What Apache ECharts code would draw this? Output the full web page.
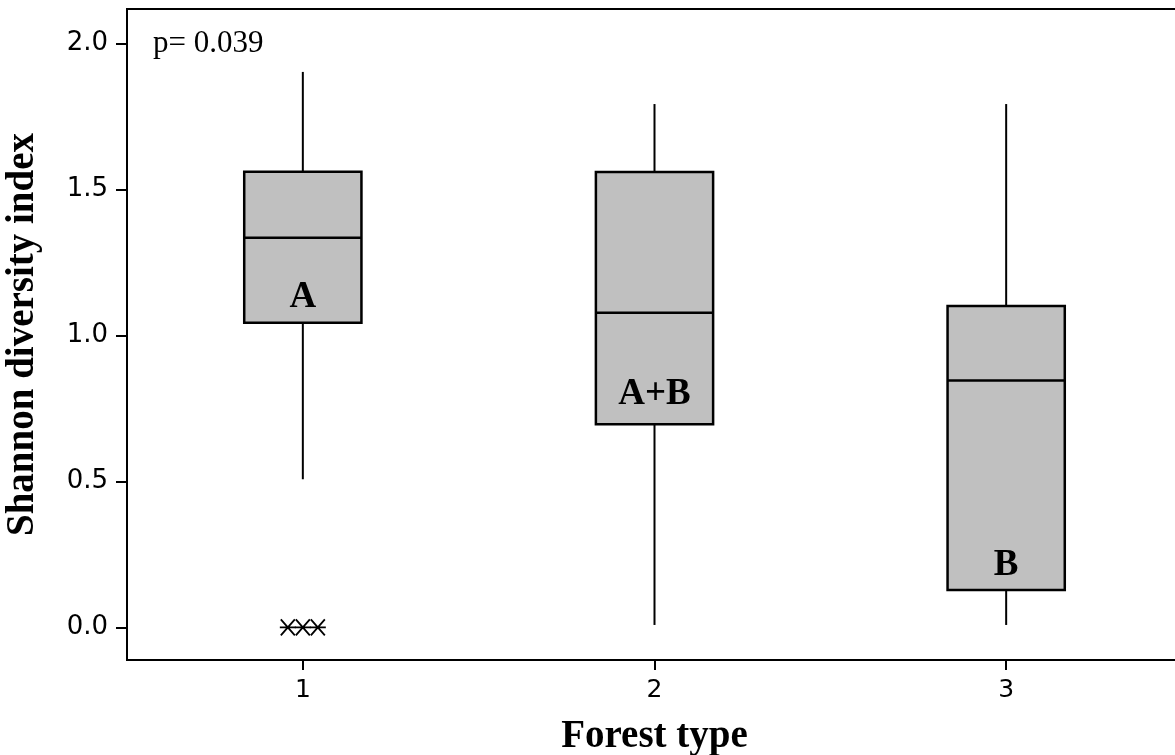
<!DOCTYPE html>
<html>
<head>
<meta charset="utf-8">
<script src="https://cdn.jsdelivr.net/npm/echarts@6/dist/echarts.min.js"></script>
<style>
  html, body { margin: 0; padding: 0; background: #fff; }
  #chart { width: 1175px; height: 755px; }
</style>
</head>
<body>
<div id="chart"></div>
<script>
// Shannon diversity index by forest type
const categories = ['1', '2', '3'];
const whiskerLow = [0.507, 0.008, 0.008];
const quartile1 = [1.043, 0.695, 0.128];
const medians = [1.334, 1.077, 0.845];
const quartile3 = [1.560, 1.559, 1.100];
const whiskerHigh = [1.902, 1.792, 1.792];

// tied outliers of forest type 1 (all at zero)
const outlierGroup = [0, 0, 0];
const outlierValues = [0, 0, 0];

// grouping letters from the post-hoc comparison
const groupLetters = ['A', 'A+B', 'B'];
const letterValues = [1.131, 0.796, 0.213];

const yTicks = [0, 0.5, 1.0, 1.5, 2.0];
const pValueText = 'p= 0.039';

const serif = '"Liberation Serif", "Times New Roman", serif';
const sans = '"DejaVu Sans", Verdana, sans-serif';

const boxData = categories.map((c, i) => [i, whiskerLow[i], quartile1[i], medians[i], quartile3[i], whiskerHigh[i]]);

function renderBox(params, api) {
  const x = api.value(0);
  const lo = api.coord([x, api.value(1)]);
  const q1 = api.coord([x, api.value(2)]);
  const med = api.coord([x, api.value(3)]);
  const q3 = api.coord([x, api.value(4)]);
  const hi = api.coord([x, api.value(5)]);
  const half = api.size([1, 0])[0] / 6;
  const cx = q1[0];
  const lineStyle = { stroke: '#000', lineWidth: 2 };
  return {
    type: 'group',
    children: [
      { type: 'line', shape: { x1: cx, y1: hi[1], x2: cx, y2: q3[1] }, style: lineStyle },
      { type: 'line', shape: { x1: cx, y1: q1[1], x2: cx, y2: lo[1] }, style: lineStyle },
      { type: 'rect', shape: { x: cx - half, y: q3[1], width: half * 2, height: q1[1] - q3[1] },
        style: { fill: '#c0c0c0', stroke: '#000', lineWidth: 2.5 } },
      { type: 'line', shape: { x1: cx - half, y1: med[1], x2: cx + half, y2: med[1] }, style: { stroke: '#000', lineWidth: 2.5 } }
    ]
  };
}

// asterisk: a cross with a horizontal bar through its centre
const asterisk = 'path://M1,1 L15,15 M1,15 L15,1 M0,8 L16,8';

const chart = echarts.init(document.getElementById('chart'), null, { renderer: 'canvas' });
chart.setOption({
  animation: false,
  backgroundColor: '#fff',
  grid: { left: 127, top: 9, width: 1055, height: 651, show: true, borderColor: '#000', borderWidth: 2,
    containLabel: false, outerBoundsMode: 'none' },
  xAxis: {
    type: 'category',
    data: categories,
    boundaryGap: true,
    name: 'Forest type',
    nameLocation: 'middle',
    nameGap: 57,
    nameTextStyle: { fontFamily: serif, fontWeight: 'bold', fontSize: 39, color: '#000' },
    axisLine: { show: true, onZero: false, lineStyle: { color: '#000', width: 2 } },
    axisTick: { show: true, alignWithLabel: true, length: 10, lineStyle: { color: '#000', width: 2 } },
    axisLabel: { fontFamily: sans, fontSize: 25, color: '#000', margin: 18 },
    splitLine: { show: false }
  },
  yAxis: {
    type: 'value',
    min: -0.112,
    max: 2.1175,
    name: 'Shannon diversity index',
    nameLocation: 'middle',
    nameGap: 85,
    nameTextStyle: { fontFamily: serif, fontWeight: 'bold', fontSize: 39, color: '#000' },
    axisLine: { show: true, onZero: false, lineStyle: { color: '#000', width: 2 } },
    axisTick: { show: true, length: 11, customValues: yTicks, lineStyle: { color: '#000', width: 2 } },
    axisLabel: { fontFamily: sans, fontSize: 26, color: '#000', margin: 19, customValues: yTicks,
      formatter: v => v.toFixed(1) },
    splitLine: { show: false }
  },
  series: [
    {
      type: 'custom',
      renderItem: renderBox,
      encode: { x: 0, y: [1, 2, 3, 4, 5] },
      data: boxData,
      z: 2
    },
    {
      type: 'scatter',
      symbol: asterisk,
      symbolSize: [16, 16],
      itemStyle: { color: 'transparent', borderColor: '#000', borderWidth: 1.8, opacity: 1 },
      data: outlierValues.map((v, i) => ({ value: [outlierGroup[i], v], symbolOffset: [(i - 1) * 15, 0] })),
      z: 3
    },
    {
      type: 'scatter',
      symbolSize: 0,
      itemStyle: { opacity: 1 },
      data: letterValues.map((v, i) => [i, v]),
      label: {
        show: true,
        position: 'inside',
        formatter: p => groupLetters[p.dataIndex],
        fontFamily: serif,
        fontWeight: 'bold',
        fontSize: 37,
        color: '#000'
      },
      z: 4
    }
  ],
  graphic: [
    {
      type: 'text',
      left: 153,
      top: 28,
      style: { text: pValueText, font: '31px ' + serif, fill: '#000' }
    }
  ]
});
</script>
</body>
</html>
